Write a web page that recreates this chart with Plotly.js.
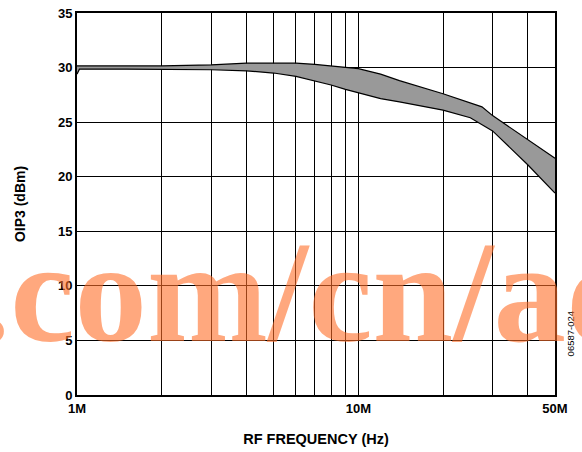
<!DOCTYPE html>
<html>
<head>
<meta charset="utf-8">
<script src="https://cdn.plot.ly/plotly-3.0.1.min.js"></script>
<style>
  html, body { margin: 0; padding: 0; background: #fff; }
  #chart { width: 582px; height: 452px; }
</style>
</head>
<body>
<div id="chart"></div>
<script>
// Frequencies in Hz
const upperFreq = [1.0e6, 1.5e6, 2e6, 3e6, 4e6, 5e6, 6e6, 7e6, 8e6, 9e6, 10e6, 12e6, 14e6, 20e6, 27.5e6, 30e6, 40e6, 50e6];
const upperOIP3 = [30.15, 30.15, 30.15, 30.25, 30.4, 30.4, 30.4, 30.3, 30.15, 30.0, 29.9, 29.4, 28.8, 27.6, 26.4, 25.6, 23.4, 21.7];

const lowerFreq = [1.0e6, 1.02e6, 1.5e6, 2e6, 3e6, 4e6, 5e6, 6e6, 7e6, 8e6, 9e6, 10e6, 12e6, 14e6, 20e6, 25e6, 30e6, 40e6, 50e6];
const lowerOIP3 = [29.4, 29.85, 29.85, 29.85, 29.8, 29.7, 29.5, 29.2, 28.8, 28.4, 28.0, 27.7, 27.15, 26.85, 26.1, 25.4, 24.2, 21.1, 18.5];

const xGridVals = [1e6, 2e6, 3e6, 4e6, 5e6, 6e6, 7e6, 8e6, 9e6, 1e7, 2e7, 3e7, 4e7, 5e7];
const xGridText = ['1M', '', '', '', '', '', '', '', '', '10M', '', '', '', '50M'];
const yTickVals = [0, 5, 10, 15, 20, 25, 30, 35];

const font = 'Arial, "Liberation Sans", Helvetica, sans-serif';

const traces = [
  {
    x: lowerFreq, y: lowerOIP3, type: 'scatter', mode: 'lines',
    line: { color: '#000', width: 1.2 }, hoverinfo: 'skip', showlegend: false
  },
  {
    x: upperFreq, y: upperOIP3, type: 'scatter', mode: 'lines',
    line: { color: '#000', width: 1.2 }, fill: 'tonexty', fillcolor: 'rgb(153,153,153)',
    hoverinfo: 'skip', showlegend: false
  }
];

const layout = {
  width: 582, height: 452,
  margin: { l: 77, r: 27, t: 13, b: 57 },
  paper_bgcolor: '#fff', plot_bgcolor: '#fff',
  showlegend: false,
  xaxis: {
    type: 'log',
    range: [6, Math.log10(5e7)],
    tickmode: 'array', tickvals: xGridVals, ticktext: xGridText,
    showgrid: true, gridcolor: '#000', gridwidth: 1,
    showline: true, linecolor: '#000', linewidth: 2, mirror: true,
    ticks: '', zeroline: false,
    tickfont: { family: font, size: 13, color: '#000', weight: 'bold' },
    title: { text: 'RF FREQUENCY (Hz)', font: { family: font, size: 14.5, color: '#000', weight: 'bold' }, standoff: 19 }
  },
  yaxis: {
    range: [0, 35],
    tickmode: 'array', tickvals: yTickVals,
    showgrid: true, gridcolor: '#000', gridwidth: 1,
    showline: true, linecolor: '#000', linewidth: 2, mirror: true,
    ticks: '', zeroline: false,
    tickfont: { family: font, size: 13, color: '#000', weight: 'bold' },
    title: { text: 'OIP3 (dBm)', font: { family: font, size: 14, color: '#000', weight: 'bold' }, standoff: 29 }
  },
  annotations: [
    {
      text: '06587-024', xref: 'paper', yref: 'paper',
      x: 1, y: 0.16, xanchor: 'left', yanchor: 'middle', xshift: 8,
      textangle: -90, showarrow: false,
      font: { family: font, size: 9.5, color: '#000' }
    },
    {
      text: '.com/cn/ad', xref: 'paper', yref: 'paper',
      x: -0.2197, y: 0.2707, xanchor: 'left', yanchor: 'middle',
      showarrow: false,
      font: { family: '"Liberation Serif", "Times New Roman", serif', size: 145, color: 'rgba(255,110,40,0.6)', weight: 'bold' }
    }
  ]
};

Plotly.newPlot('chart', traces, layout, { displayModeBar: false, staticPlot: true });
</script>
</body>
</html>
